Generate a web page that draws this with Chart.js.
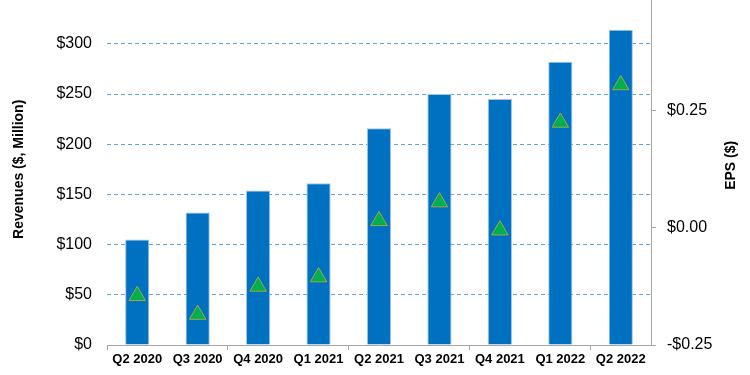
<!DOCTYPE html>
<html>
<head>
<meta charset="utf-8">
<script src="https://cdn.jsdelivr.net/npm/chart.js@4"></script>
<style>
  html, body { margin: 0; padding: 0; background: #fff; overflow: hidden; }
  .wrap { position: relative; width: 750px; height: 375px; overflow: hidden; }
  /* the original picture is cropped at the top, so the canvas is shifted up */
  .wrap canvas { position: absolute; left: 0; top: -31px; }
</style>
</head>
<body>
<div class="wrap"><canvas id="chart" width="750" height="408"></canvas></div>
<script>
const quarters = ["Q2 2020", "Q3 2020", "Q4 2020", "Q1 2021", "Q2 2021", "Q3 2021", "Q4 2021", "Q1 2022", "Q2 2022"];
const revenues = [105, 132, 154, 161, 216, 250, 245, 282, 314];
const eps = [-0.145, -0.185, -0.125, -0.105, 0.015, 0.055, -0.005, 0.225, 0.305];

const revenueMin = 0, revenueMax = 350, revenueStep = 50;
const epsMin = -0.25, epsMax = 0.5, epsStep = 0.25;

const fontFamily = '"Liberation Sans", Arial, sans-serif';
const axisGray = "#a6a6a6";

// right axis title reads bottom-to-top, Chart.js would rotate it the other way
const epsTitle = {
  id: "epsTitle",
  afterDraw(chart) {
    const ctx = chart.ctx;
    const area = chart.chartArea;
    ctx.save();
    ctx.translate(chart.width - 19, (area.top + area.bottom) / 2 - 4);
    ctx.rotate(-Math.PI / 2);
    ctx.font = "bold 14px " + fontFamily;
    ctx.fillStyle = "#000";
    ctx.textAlign = "center";
    ctx.textBaseline = "middle";
    ctx.fillText("EPS ($)", 0, 0);
    ctx.restore();
  }
};

const ctx = document.getElementById("chart").getContext("2d");

new Chart(ctx, {
  data: {
    labels: quarters,
    datasets: [
      {
        type: "line",
        label: "EPS",
        data: eps,
        yAxisID: "y1",
        showLine: false,
        pointStyle: "triangle",
        pointRadius: 9.5,
        pointHoverRadius: 9.5,
        pointBackgroundColor: "#00b050",
        pointBorderColor: "#a8a43c",
        pointBorderWidth: 1,
        order: 0
      },
      {
        type: "bar",
        label: "Revenues",
        data: revenues,
        yAxisID: "y",
        backgroundColor: "#0070c0",
        borderColor: "#9dc3e6",
        borderWidth: 1,
        borderSkipped: "bottom",
        barPercentage: 0.8,
        categoryPercentage: 0.5,
        order: 1
      }
    ]
  },
  options: {
    responsive: false,
    animation: false,
    layout: { padding: { top: 0, left: 0, right: 0, bottom: 0 } },
    plugins: {
      legend: { display: false },
      tooltip: { enabled: false }
    },
    scales: {
      x: {
        grid: {
          offset: true,
          drawOnChartArea: false,
          drawTicks: true,
          tickLength: 5,
          tickColor: (c) => (c.index % 2 === 0 ? axisGray : "rgba(0,0,0,0)")
        },
        border: { display: true, color: axisGray },
        ticks: {
          color: "#000",
          padding: 2,
          maxRotation: 0,
          autoSkip: false,
          font: { family: fontFamily, size: 13, weight: "bold" }
        },
        afterFit: (scale) => { scale.height = 32; }
      },
      y: {
        position: "left",
        min: revenueMin,
        max: revenueMax,
        grid: {
          drawTicks: false,
          lineWidth: 1,
          color: (c) => (c.tick.value === revenueMin || c.tick.value === revenueMax ? "rgba(0,0,0,0)" : "#5fa5dc")
        },
        border: { display: false, dash: [4, 3] },
        ticks: {
          stepSize: revenueStep,
          color: "#000",
          padding: 15,
          font: { family: fontFamily, size: 16 },
          callback: (v) => "$" + v
        },
        title: {
          display: true,
          text: "Revenues ($, Million)",
          color: "#000",
          padding: { top: 11, bottom: 0 },
          font: { family: fontFamily, size: 14, weight: "bold" }
        },
        afterFit: (scale) => { scale.width = 107; }
      },
      y1: {
        position: "right",
        min: epsMin,
        max: epsMax,
        grid: {
          drawOnChartArea: false,
          drawTicks: true,
          tickLength: 5,
          tickColor: axisGray
        },
        border: { display: true, color: axisGray },
        ticks: {
          stepSize: epsStep,
          color: "#000",
          padding: 11,
          font: { family: fontFamily, size: 16 },
          callback: (v) => (v < 0 ? "-$" + Math.abs(v).toFixed(2) : "$" + v.toFixed(2))
        },
        afterFit: (scale) => { scale.width = 99; }
      }
    }
  },
  plugins: [epsTitle]
});
</script>
</body>
</html>
